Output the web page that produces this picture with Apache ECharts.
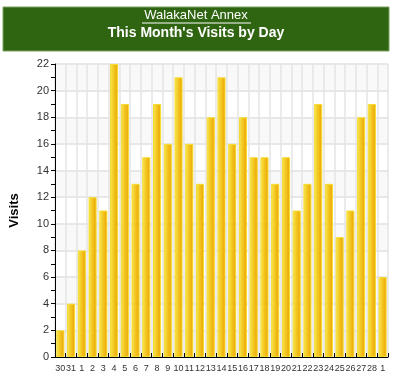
<!DOCTYPE html>
<html><head><meta charset="utf-8">
<script src="https://cdn.jsdelivr.net/npm/echarts@6/dist/echarts.min.js"></script>
<style>html,body{margin:0;padding:0;background:#fff}#c{width:400px;height:382px}</style>
</head><body><div id="c"></div>
<script>
const days = ['30','31','1','2','3','4','5','6','7','8','9','10','11','12','13','14','15','16','17','18','19','20','21','22','23','24','25','26','27','28','1'];
const visits = [2,4,8,12,11,22,19,13,15,19,16,21,16,13,18,21,16,18,15,15,13,15,11,13,19,13,9,11,18,19,6];
const siteName = 'WalakaNet Annex';
const chartTitle = "This Month's Visits by Day";
const yName = 'Visits';
const yMin = 0, yMax = 22, yStep = 2;

const chart = echarts.init(document.getElementById('c'), null, {renderer:'canvas'});
const ff = 'Liberation Sans, Arial, sans-serif';
chart.setOption({
  animation:false,
  graphic:[
    {type:'rect', shape:{x:3,y:7,width:386,height:44}, style:{fill:'#2f6411', stroke:'#7aa060', lineWidth:1}},
    {type:'text', x:196, y:15, style:{text:siteName, fill:'#fff', font:'13px '+ff, textAlign:'center', textVerticalAlign:'middle'}},
    {type:'line', shape:{x1:142,y1:23,x2:251,y2:23}, style:{stroke:'#fff', lineWidth:1}},
    {type:'text', x:196, y:33, style:{text:chartTitle, fill:'#fff', font:'bold 14px '+ff, textAlign:'center', textVerticalAlign:'middle'}}
  ],
  grid:{left:46, right:12, top:64, bottom:25},
  xAxis:{
    type:'category', data:days, boundaryGap:true,
    axisLine:{lineStyle:{color:'#000', width:1}},
    axisTick:{show:true, inside:true, length:4, lineStyle:{color:'#000'}},
    axisLabel:{interval:0, fontSize:9, color:'#333', fontFamily:ff, margin:7},
    splitLine:{show:true, interval:0, lineStyle:{color:'#e4e4e4', width:1.5}}
  },
  yAxis:{
    type:'value', min:yMin, max:yMax, interval:yStep,
    name:yName, nameLocation:'middle', nameGap:34,
    nameTextStyle:{fontWeight:'bold', fontSize:13, color:'#000', fontFamily:ff},
    axisLine:{show:true, lineStyle:{color:'#000', width:1}},
    axisTick:{show:true, inside:false, length:4, lineStyle:{color:'#000'}},
    minorTick:{show:true, splitNumber:2, length:4, lineStyle:{color:'#000'}},
    axisLabel:{fontSize:11, color:'#333', fontFamily:ff, margin:6},
    splitLine:{show:true, lineStyle:{color:'#e0e0e0', width:1.5}},
    splitArea:{show:true, areaStyle:{color:['#f9f9f9','#ffffff']}}
  },
  series:[{
    type:'bar', data:visits, barCategoryGap:'25%',
    itemStyle:{
      color:new echarts.graphic.LinearGradient(0,0,1,0,[
        {offset:0,color:'#f7e85e'},{offset:0.45,color:'#f3c821'},{offset:1,color:'#eba105'}
      ]),
      borderColor:'#f6dc2c', borderWidth:1
    }
  }]
});
</script></body></html>
